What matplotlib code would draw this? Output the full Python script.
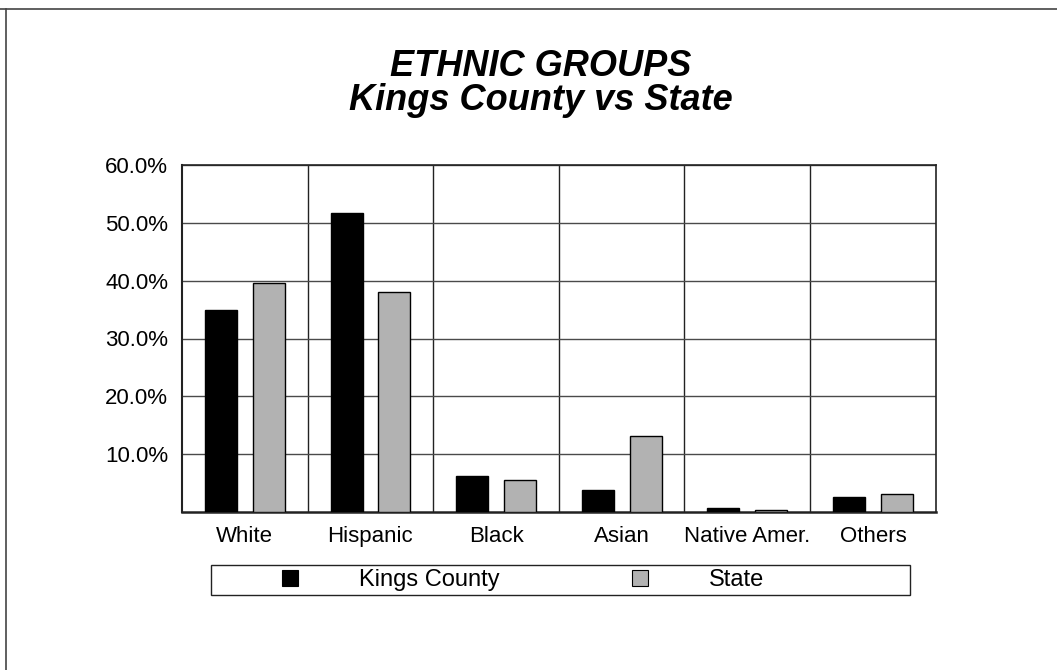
import matplotlib
matplotlib.use("Agg")
import matplotlib.pyplot as plt
import numpy as np
from matplotlib.lines import Line2D
from matplotlib.patches import Rectangle

categories = ["White", "Hispanic", "Black", "Asian", "Native Amer.", "Others"]
kings_county = [34.9, 51.7, 6.3, 3.8, 0.7, 2.6]
state = [39.5, 38.0, 5.6, 13.1, 0.35, 3.1]
yticks = [10, 20, 30, 40, 50, 60]
series_names = ["Kings County", "State"]
title_lines = ["ETHNIC GROUPS", "Kings County vs State"]

plt.rcParams["font.family"] = ["Liberation Sans", "DejaVu Sans"]

W, H = 1057, 670
fig = plt.figure(figsize=(W / 100, H / 100), dpi=100)
fig.patch.set_facecolor("white")

ax = fig.add_axes([182 / W, 1 - 512.3 / H, (935.7 - 182) / W, (512.3 - 164.7) / H])

x = np.arange(len(categories))
bw = 0.255
off = 0.19
ax.bar(x - off, kings_county, width=bw, color="black", edgecolor="black", linewidth=1, zorder=3)
ax.bar(x + off, state, width=bw, color="#b2b2b2", edgecolor="black", linewidth=1, zorder=3)

ax.set_xlim(-0.5, len(categories) - 0.5)
ax.set_ylim(0, 60)
ax.set_yticks(yticks)
ax.set_yticklabels([f"{v:.1f}%" for v in yticks], fontsize=16)
ax.set_xticks(x)
ax.set_xticklabels(categories, fontsize=16)
ax.set_xticks(np.arange(0.5, len(categories) - 0.5, 1), minor=True)
ax.tick_params(axis="both", which="both", length=0)
ax.tick_params(axis="y", pad=10)
ax.tick_params(axis="x", pad=10)
ax.yaxis.grid(True, which="major", color="#4a4a4a", linewidth=1, zorder=0)
ax.xaxis.grid(True, which="minor", color="#222222", linewidth=1, zorder=0)
ax.set_axisbelow(True)
for s in ax.spines.values():
    s.set_color("#222222")
    s.set_linewidth(1.2)
ax.spines["left"].set_linewidth(1.5)
ax.spines["bottom"].set_linewidth(1.8)

# Title
fig.text(541 / W, 1 - 66 / H, title_lines[0], ha="center", va="center",
         fontsize=26, fontweight="bold", fontstyle="italic")
fig.text(541 / W, 1 - 101 / H, title_lines[1], ha="center", va="center",
         fontsize=26, fontweight="bold", fontstyle="italic")

# Legend box
fig.patches.append(Rectangle((211 / W, 1 - 595 / H), (910 - 211) / W, 30 / H,
                             transform=fig.transFigure, facecolor="white",
                             edgecolor="#222222", linewidth=1, zorder=1))

colors = ["black", "#b2b2b2"]
marker_x = [289.5, 639.5]
fs = 17
for name, c, mx in zip(series_names, colors, marker_x):
    h = Line2D([], [], linestyle="none", marker="s", markersize=11.5,
               markerfacecolor=c, markeredgecolor="black", markeredgewidth=0.8)
    handle_len_em = 4.0
    half_px = handle_len_em * fs / 72 * 100 / 2
    leg = fig.legend([h], [name], loc="center left",
                     bbox_to_anchor=((mx - half_px) / W, 1 - 580 / H),
                     frameon=False, fontsize=fs, handlelength=handle_len_em,
                     handletextpad=0.95, borderpad=0, borderaxespad=0)
    leg.set_zorder(3)

# Figure border lines (top and left)
fig.add_artist(Line2D([0, 1], [1 - 8.5 / H, 1 - 8.5 / H], transform=fig.transFigure,
                      color="#444444", linewidth=1.2))
fig.add_artist(Line2D([5.5 / W, 5.5 / W], [0, 1 - 8.5 / H], transform=fig.transFigure,
                      color="#444444", linewidth=1.2))

fig.savefig("out.png", dpi=100)
